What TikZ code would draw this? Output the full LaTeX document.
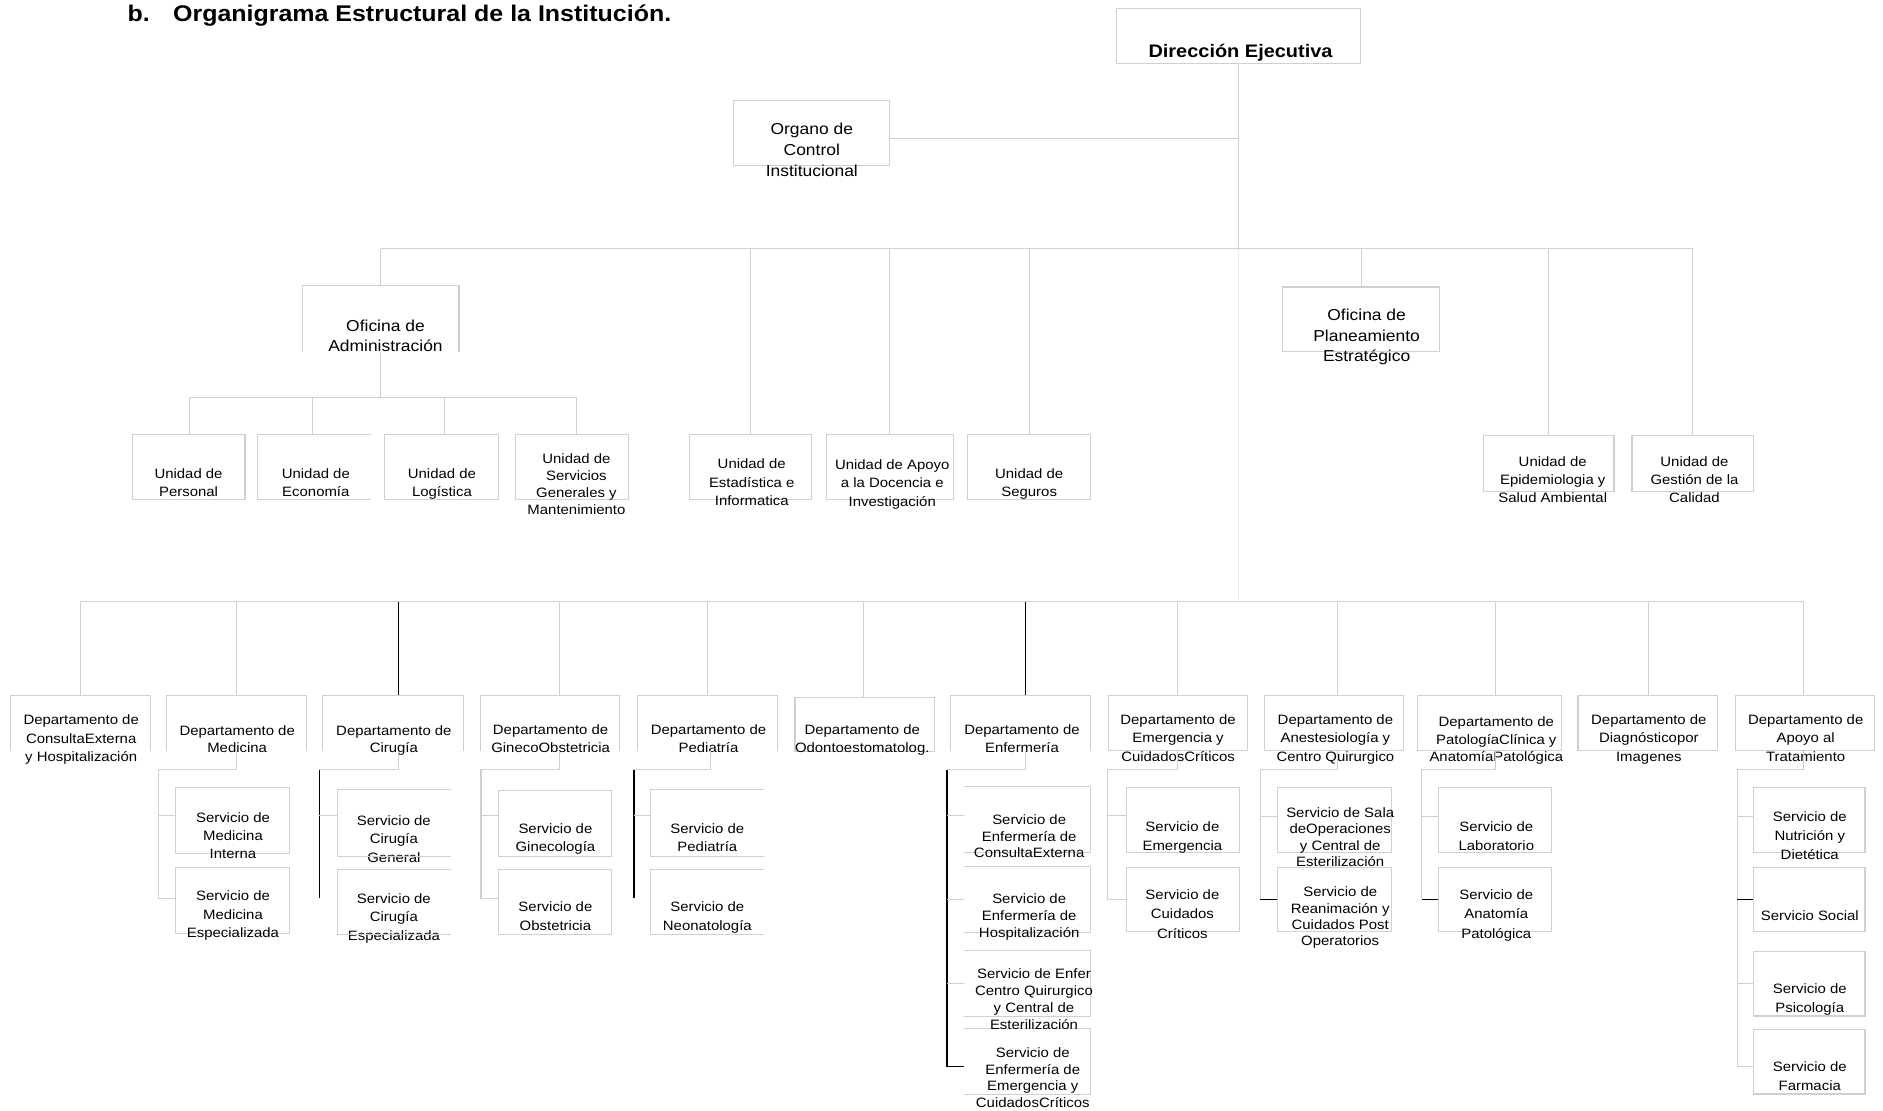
\documentclass[tikz,border=0pt]{standalone}
\usepackage{fontspec}
\setmainfont{Liberation Sans}[FakeStretch=1.1]
\usetikzlibrary{fit,calc}
\definecolor{ln}{HTML}{D0D0D0}
\definecolor{lnf}{HTML}{EDEDED}
\tikzset{
  bx/.style={draw=ln, line width=0.9pt, inner sep=0pt},
  ob/.style={inner sep=0pt},
  tx/.style={align=center, inner sep=0pt, yshift=-1.4pt, font=\fontsize{11.3}{#1}\selectfont,
    execute at begin node=\strut, execute at end node=\strut},
  tx/.default=15.5,
  txm/.style={align=center, inner sep=0pt, yshift=-2pt, font=\fontsize{13.2}{#1}\selectfont,
    execute at begin node=\strut, execute at end node=\strut},
  txm/.default=17,
  cn/.style={draw=ln, line width=0.9pt},
  cb/.style={draw=black, line width=1pt},
  cf/.style={draw=lnf, line width=0.9pt}
}
\begin{document}
\begin{tikzpicture}[x=1pt,y=-1pt]
\useasboundingbox (0,0) rectangle (1568,925);
% ---------- title ----------
\node[anchor=base west, inner sep=0pt, font=\bfseries\fontsize{18.9}{22}\selectfont] (title) at (106,18)
  {b.\hspace{19.5pt}Organigrama Estructural de la Institución.};
% ---------- top boxes ----------
\node[bx, fit={(930,7) (1133,53)}] (dir) {};
\node[anchor=base, inner sep=0pt, font=\bfseries\fontsize{15.1}{18}\selectfont] (dirt) at (1033,47.5) {Dirección Ejecutiva};
\node[bx, fit={(611,84) (741,138)}] (org) {};
\node[txm=17.5, yshift=-0.5pt] (orgt) at (676,125) {Organo de\\Control\\Institucional};
\node[ob, fit={(252,238) (382,293)}] (adm) {};
\draw[cn] (adm.south west) -- (adm.north west) -- (adm.north east) -- (adm.south east);
\node[txm, yshift=1pt] (admt) at (321,281) {Oficina de\\Administración};
\node[bx, fit={(1068,239) (1199,293)}] (pla) {};
\node[txm] (plat) at (1138,280) {Oficina de\\Planeamiento\\Estratégico};
% ---------- unidades ----------
\node[bx, fit={(110,362) (204,416)}] (up) {};
\node[tx] (upt) at (157,402.7) {Unidad de\\Personal};
\node[ob, fit={(215,362) (309,416)}] (ue) {};
\draw[cn] (ue.south east) -- (ue.south west) -- (ue.north west) -- (ue.north east);
\node[tx] (uet) at (263,402.7) {Unidad de\\Economía};
\node[bx, fit={(320,362) (415,416)}] (ul) {};
\node[tx] (ult) at (368,402.7) {Unidad de\\Logística};
\node[bx, fit={(429,362) (523,416)}] (us) {};
\node[tx=14.2] (ust) at (480,404) {Unidad de\\Servicios\\Generales y\\Mantenimiento};
\node[bx, fit={(574,362) (676,416)}] (ues) {};
\node[tx] (uest) at (626,402.6) {Unidad de\\Estadística e\\Informatica};
\node[bx, fit={(688,362) (794,416)}] (uad) {};
\node[tx] (uadt) at (743,403) {Unidad de Apoyo\\a la Docencia e\\Investigación};
\node[bx, fit={(806,362) (908,416)}] (use) {};
\node[tx] (uset) at (857,402.7) {Unidad de\\Seguros};
\node[bx, fit={(1235,363) (1344,409)}] (uep) {};
\node[tx=14.8] (uept) at (1293,400) {Unidad de\\Epidemiologia y\\Salud Ambiental};
\node[bx, fit={(1359,363) (1460,409)}] (ugc) {};
\node[tx=14.8] (ugct) at (1411,400) {Unidad de\\Gestión de la\\Calidad};
% ---------- departamentos ----------
\node[ob, fit={(9,579) (125,625)}] (d1) {};
\node[ob, fit={(139,579) (255,625)}] (d2) {};
\node[ob, fit={(269,579) (386,625)}] (d3) {};
\node[ob, fit={(400,579) (516,625)}] (d4) {};
\node[ob, fit={(531,579) (647,625)}] (d5) {};
\node[bx, fit={(662,581) (778,626)}] (d6) {};
\node[ob, fit={(792,579) (908,625)}] (d7) {};
\node[bx, fit={(923,579) (1039,625)}] (d8) {};
\node[bx, fit={(1053,579) (1169,625)}] (d9) {};
\node[bx, fit={(1180,579) (1300,625)}] (d10) {};
\node[bx, fit={(1314,579) (1430,625)}] (d11) {};
\node[bx, fit={(1445,579) (1561,625)}] (d12) {};
\foreach \d in {d1,d2,d3,d4,d5,d7}
  \draw[cn] (\d.south west) -- (\d.north west) -- (\d.north east) -- (\d.south east);
\node[tx] (d1t) at (67.6,615.6) {Departamento de\\ConsultaExterna\\y Hospitalización};
\node[tx=14.5] (d2t) at (197.5,616) {Departamento de\\Medicina};
\node[tx=14.5] (d3t) at (328,616) {Departamento de\\Cirugía};
\node[tx=15] (d4t) at (458.5,615.5) {Departamento de\\GinecoObstetricia};
\node[tx=15] (d5t) at (590,615.5) {Departamento de\\Pediatría};
\node[tx=15] (d6t) at (718,615.5) {Departamento de\\Odontoestomatolog.};
\node[tx=15] (d7t) at (851,615.5) {Departamento de\\Enfermería};
\node[tx] (d8t) at (981,615.3) {Departamento de\\Emergencia y\\CuidadosCríticos};
\node[tx] (d9t) at (1112,615.3) {Departamento de\\Anestesiología y\\Centro Quirurgico};
\node[tx=14.5] (d10t) at (1246,616.3) {Departamento de\\PatologíaClínica y\\AnatomíaPatológica};
\node[tx] (d11t) at (1373,615.3) {Departamento de\\Diagnósticopor\\Imagenes};
\node[tx] (d12t) at (1503.6,615.3) {Departamento de\\Apoyo al\\Tratamiento};
% ---------- servicios ----------
\node[bx, fit={(146,656) (241,711)}] (s21) {};
\node[bx, fit={(146,722) (241,777)}] (s22) {};
\node[tx=15] (s21t) at (194,697) {Servicio de\\Medicina\\Interna};
\node[tx] (s22t) at (194,762.3) {Servicio de\\Medicina\\Especializada};
\node[ob, fit={(281,658) (375,713)}] (s31) {};
\node[ob, fit={(281,724) (375,778)}] (s32) {};
\node[tx] (s31t) at (328,699.5) {Servicio de\\Cirugía\\General};
\node[tx] (s32t) at (328,764.4) {Servicio de\\Cirugía\\Especializada};
\node[bx, fit={(415,658) (509,713)}] (s41) {};
\node[bx, fit={(415,724) (509,778)}] (s42) {};
\node[tx=15] (s41t) at (462.5,698.5) {Servicio de\\Ginecología};
\node[tx=15.5] (s42t) at (462.5,764) {Servicio de\\Obstetricia};
\node[ob, fit={(542,658) (636,713)}] (s51) {};
\node[ob, fit={(542,724) (636,778)}] (s52) {};
\node[tx=15] (s51t) at (589,698.5) {Servicio de\\Pediatría};
\node[tx=15.5] (s52t) at (589,764) {Servicio de\\Neonatología};
\foreach \s in {s31,s32,s51,s52}
  \draw[cn] (\s.north east) -- (\s.north west) -- (\s.south west) -- (\s.south east);
\node[ob, fit={(803,655) (908,710)}] (s71) {};
\node[ob, fit={(803,722) (908,776)}] (s72) {};
\node[ob, fit={(803,792) (908,846)}] (s73) {};
\node[ob, fit={(803,857) (908,911)}] (s74) {};
\foreach \s in {s71,s72,s73,s74}
  \draw[cn] (\s.north west) -- (\s.north east) -- (\s.south east) -- (\s.south west);
\node[tx=14] (s71t) at (857,697) {Servicio de\\Enfermería de\\ConsultaExterna};
\node[tx=14] (s72t) at (857,763) {Servicio de\\Enfermería de\\Hospitalización};
\node[tx=14.3] (s73t) at (861,832.7) {Servicio de Enfer\\Centro Quirurgico\\y Central de\\Esterilización};
\node[tx=13.7] (s74t) at (860,898) {Servicio de\\Enfermería de\\Emergencia y\\CuidadosCríticos};
\node[bx, fit={(938,656) (1032,710)}] (s81) {};
\node[bx, fit={(938,722) (1032,776)}] (s82) {};
\node[tx=16] (s81t) at (984.6,697) {Servicio de\\Emergencia};
\node[tx=16] (s82t) at (984.6,762) {Servicio de\\Cuidados\\Críticos};
\node[bx, fit={(1064,656) (1159,710)}] (s91) {};
\node[bx, fit={(1064,722) (1159,776)}] (s92) {};
\node[tx=13.7] (s91t) at (1116,697.7) {Servicio de Sala\\deOperaciones\\y Central de\\Esterilización};
\node[tx=13.7] (s92t) at (1116,763.7) {Servicio de\\Reanimación y\\Cuidados Post\\Operatorios};
\node[bx, fit={(1198,656) (1292,710)}] (s101) {};
\node[bx, fit={(1198,722) (1292,776)}] (s102) {};
\node[tx=16] (s101t) at (1246,697) {Servicio de\\Laboratorio};
\node[tx=16] (s102t) at (1246,762) {Servicio de\\Anatomía\\Patológica};
\node[bx, fit={(1460,656) (1553,710)}] (s121) {};
\node[bx, fit={(1460,722) (1553,776)}] (s122) {};
\node[bx, fit={(1460,792) (1553,846)}] (s123) {};
\node[bx, fit={(1460,857) (1553,911)}] (s124) {};
\node[tx] (s121t) at (1507,696.7) {Servicio de\\Nutrición y\\Dietética};
\node[tx] (s122t) at (1507,762) {Servicio Social};
\node[tx=16] (s123t) at (1507,832) {Servicio de\\Psicología};
\node[tx=16] (s124t) at (1507,897) {Servicio de\\Farmacia};
% ---------- connectors: upper levels ----------
\coordinate (t2) at (1031.5,207);
\coordinate (t3) at (1031.5,501);
\draw[cn] (dir.south) -- (t2);
\draw[cf] (t2) -- (t3);
\draw[cn] ([yshift=-4pt]org.east) -- ([yshift=-4pt]org.east -| dir.south);
\draw[cn] (adm.north |- t2) -- (ugc.north |- t2);
\foreach \n in {adm,ues,uad,use,pla,uep,ugc}
  \draw[cn] (\n.north |- t2) -- (\n.north);
\coordinate (a0) at (317,331);
\coordinate (a1) at (157.6,331);
\coordinate (a2) at (260.2,331);
\coordinate (a3) at (370.2,331);
\coordinate (a4) at (480,331);
\draw[cn] (adm.south) -- (a0);
\draw[cn] (a1) -- (a4);
\draw[cn] (a1) -- (a1 |- up.north);
\draw[cn] (a2) -- (a2 |- ue.north);
\draw[cn] (a3) -- (a3 |- ul.north);
\draw[cn] (a4) -- (a4 |- us.north);
% ---------- connectors: departamentos ----------
\coordinate (p1) at (67,501);
\coordinate (p2) at (197,501);
\coordinate (p3) at (331.6,501);
\coordinate (p4) at (466,501);
\coordinate (p5) at (589,501);
\coordinate (p6) at (719.2,501);
\coordinate (p7) at (853.9,501);
\coordinate (p8) at (980.6,501);
\coordinate (p9) at (1114,501);
\coordinate (p10) at (1245,501);
\coordinate (p11) at (1372.7,501);
\coordinate (p12) at (1502,501);
\draw[cn] (p1) -- (p12);
\draw[cn] (p1) -- (p1 |- d1.north);
\draw[cn] (p2) -- (p2 |- d2.north);
\draw[cb] (p3) -- (p3 |- d3.north);
\draw[cn] (p4) -- (p4 |- d4.north);
\draw[cn] (p5) -- (p5 |- d5.north);
\draw[cn] (p6) -- (p6 |- d6.north);
\draw[cb] (p7) -- (p7 |- d7.north);
\draw[cn] (p8) -- (p8 |- d8.north);
\draw[cn] (p9) -- (p9 |- d9.north);
\draw[cn] (p10) -- (p10 |- d10.north);
\draw[cn] (p11) -- (p11 |- d11.north);
\draw[cn] (p12) -- (p12 |- d12.north);
% ---------- connectors: servicios ----------
% Medicina
\coordinate (q2) at (197,641); \coordinate (b2) at (132,641); \coordinate (b2e) at (132,748);
\coordinate (m21) at (132,679);
\draw[cn] (q2 |- d2.south) -- (q2) -- (b2) -- (b2e) -- (b2e -| s22.west);
\draw[cn] (m21) -- (m21 -| s21.west);
% Cirugia
\coordinate (q3) at (332,641); \coordinate (b3) at (266,641); \coordinate (b3e) at (266,748);
\coordinate (m31) at (266,679);
\draw[cn] (q3 |- d3.south) -- (q3) -- (b3);
\draw[cb] (b3) -- (b3e);
\draw[cn] (m31) -- (m31 -| s31.west);
% Gineco
\coordinate (q4) at (466,641); \coordinate (b4) at (400.5,641); \coordinate (b4e) at (400.5,748);
\coordinate (m41) at (400.5,679);
\draw[cn] (q4 |- d4.south) -- (q4) -- (b4) -- (b4e) -- (b4e -| s42.west);
\draw[cn] (m41) -- (m41 -| s41.west);
% Pediatria
\coordinate (q5) at (592,641); \coordinate (b5) at (528,641); \coordinate (b5e) at (528,748);
\coordinate (m51) at (528,679);
\draw[cn] (q5 |- d5.south) -- (q5) -- (b5);
\draw[cb] (b5) -- (b5e);
\draw[cn] (m51) -- (m51 -| s51.west);
% Enfermeria
\coordinate (q7) at (854,641); \coordinate (b7) at (788.6,641); \coordinate (b7e) at (788.6,888);
\coordinate (m71) at (788.6,679); \coordinate (m72) at (788.6,749); \coordinate (m73) at (788.6,818.6);
\draw[cn] (q7 |- d7.south) -- (q7) -- (b7);
\draw[cb] (b7) -- (b7e) -- (b7e -| s74.west);
\draw[cn] (m71) -- (m71 -| s71.west);
\draw[cn] (m72) -- (m72 -| s72.west);
\draw[cn] (m73) -- (m73 -| s73.west);
% Emergencia
\coordinate (q8) at (980.6,641); \coordinate (b8) at (922.6,641); \coordinate (b8e) at (922.6,749);
\coordinate (m81) at (922.6,679);
\draw[cn] (q8 |- d8.south) -- (q8) -- (b8) -- (b8e) -- (b8e -| s82.west);
\draw[cn] (m81) -- (m81 -| s81.west);
% Anestesiologia
\coordinate (q9) at (1114,641); \coordinate (b9) at (1049.6,641); \coordinate (b9e) at (1049.6,749);
\coordinate (m91) at (1049.6,680);
\draw[cn] (q9 |- d9.south) -- (q9) -- (b9) -- (b9e);
\draw[cb] (b9e) -- (b9e -| s92.west);
\draw[cn] (m91) -- (m91 -| s91.west);
% Patologia
\coordinate (q10) at (1245,641); \coordinate (b10) at (1183.8,641); \coordinate (b10e) at (1183.8,749);
\coordinate (m101) at (1183.8,680);
\draw[cn] (q10 |- d10.south) -- (q10) -- (b10) -- (b10e);
\draw[cb] (b10e) -- (b10e -| s102.west);
\draw[cn] (m101) -- (m101 -| s101.west);
% Apoyo al Tratamiento
\coordinate (q12) at (1502,641); \coordinate (b12) at (1446.5,641); \coordinate (b12e) at (1446.5,888);
\coordinate (m121) at (1446.5,680); \coordinate (m122) at (1446.5,749); \coordinate (m123) at (1446.5,819);
\draw[cn] (q12 |- d12.south) -- (q12) -- (b12) -- (b12e) -- (b12e -| s124.west);
\draw[cn] (m121) -- (m121 -| s121.west);
\draw[cb] (m122) -- (m122 -| s122.west);
\draw[cn] (m123) -- (m123 -| s123.west);
\end{tikzpicture}
\end{document}
